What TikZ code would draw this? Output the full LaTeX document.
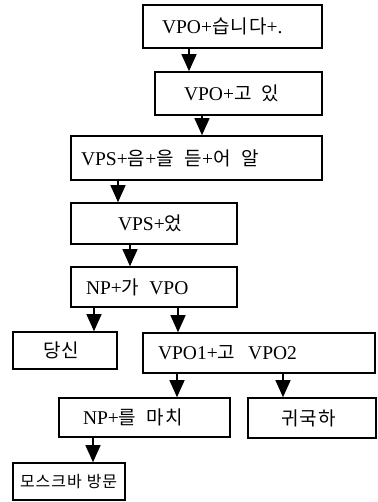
\documentclass[tikz,border=0pt]{standalone}
\usepackage{fontspec}
\setmainfont{Liberation Serif}
\newfontfamily\kr[LetterSpace=6]{Noto Sans CJK KR}
\usetikzlibrary{arrows.meta}
\tikzset{
  bx/.style={draw, line width=1.6pt, rectangle, inner sep=0pt, align=left, font=\fontsize{19.5}{22}\selectfont},
  arr/.style={line width=1.3pt, -{Triangle[width=15pt,length=17pt]}},
}
\newcommand{\K}[1]{{\kr\fontsize{19}{21}\selectfont #1}}
\newcommand{\Ks}[1]{{\kr\fontsize{16}{18}\selectfont #1}}
\newcommand{\padL}[1]{\hspace*{#1pt}}
\begin{document}
\begin{tikzpicture}[x=1pt,y=-1pt]
\useasboundingbox (0,0) rectangle (377,502);
\node[bx, text width=179pt, minimum height=43pt] (b1) at (232.5,26.5) {\padL{19}VPO+\K{습니다}+.};
\node[bx, text width=167pt, minimum height=43pt] (b2) at (238.5,93.5) {\padL{29}VPO+\K{고}\hspace{10pt}\K{있}};
\node[bx, text width=251pt, minimum height=44pt] (b3) at (196.5,158) {\padL{10}VPS+\K{음}+\K{을}\hspace{11pt}\K{듣}+\K{어}\hspace{11pt}\K{알}};
\node[bx, text width=166pt, minimum height=41pt] (b4) at (154,223.5) {\padL{47}VPS+\K{었}};
\node[bx, text width=166pt, minimum height=40pt] (b5) at (154,287) {\padL{15}NP+\K{가}\hspace{10pt}VPO};
\node[bx, text width=104pt, minimum height=37pt] (b6) at (65,350.5) {\padL{30}\K{당신}};
\node[bx, text width=232pt, minimum height=40pt] (b7) at (259,353) {\padL{15}VPO1+\K{고}\hspace{13pt}VPO2};
\node[bx, text width=171pt, minimum height=39pt] (b8) at (144.5,417.5) {\padL{24}NP+\K{를}\hspace{10pt}\K{마치}};
\node[bx, text width=128pt, minimum height=40pt] (b9) at (312,418) {\padL{33}\K{귀국하}};
\node[bx, text width=112pt, minimum height=37pt] (b10) at (69,481.5) {\padL{7}\Ks{모스크바}\hspace{5pt}\Ks{방문}};
\draw[arr] (b1.south -| 189,0) -- (b2.north -| 189,0);
\draw[arr] (b2.south -| 202,0) -- (b3.north -| 202,0);
\draw[arr] (b3.south -| 118,0) -- (b4.north -| 118,0);
\draw[arr] (b4.south -| 130,0) -- (b5.north -| 130,0);
\draw[arr] (b5.south -| 94,0) -- (b6.north -| 94,0);
\draw[arr] (b5.south -| 178,0) -- (b7.north -| 178,0);
\draw[arr] (b7.south -| 177,0) -- (b8.north -| 177,0);
\draw[arr] (b7.south -| 283,0) -- (b9.north -| 283,0);
\draw[arr] (b8.south -| 93,0) -- (b10.north -| 93,0);
\end{tikzpicture}
\end{document}
